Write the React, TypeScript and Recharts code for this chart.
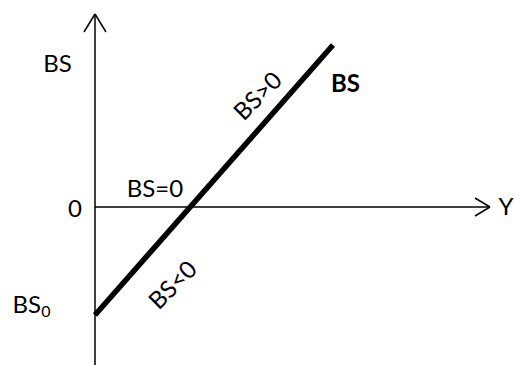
import { ComposedChart, Line, XAxis, YAxis, ReferenceDot, ReferenceLine } from "recharts";

// budget surplus line BS = -BS0 + t*Y
const lineY = [0, 9.52];
const lineBS = [-4.32, 6.48];

// axes (origin at Y=0, BS=0)
const horizAxisY = [0, 15.8];
const vertAxisBS = [-6.32, 7.72];

// open arrow heads: [tip, arm1, arm2]
const xArrowY = [15.8, 15.2, 15.2];
const xArrowBS = [0, 0.36, -0.36];
const yArrowY = [0, -0.44, 0.44];
const yArrowBS = [7.72, 7.0, 7.0];

const labels = [
  { text: "BS", y: -1.5, bs: 5.4, bold: false, angle: 0 },
  { text: "0", y: -0.8, bs: -0.4, bold: false, angle: 0 },
  { text: "BS=0", y: 2.4, bs: 0.4, bold: false, angle: 0 },
  { text: "BS", y: 10.02, bs: 4.6, bold: true, angle: 0 },
  { text: "Y", y: 16.44, bs: -0.32, bold: false, angle: 0 },
  { text: "BS>0", y: 6.48, bs: 4.48, bold: false, angle: -45 },
  { text: "BS<0", y: 3.08, bs: -3.08, bold: false, angle: -45 },
];

const toPts = (xs: number[], ys: number[]) => xs.map((x, i) => ({ y: x, bs: ys[i] }));

const FONT = "Lato, 'Open Sans', sans-serif";

const seg = (x1: number, y1: number, x2: number, y2: number, key: string) => (
  <ReferenceLine
    key={key}
    segment={[
      { x: x1, y: y1 },
      { x: x2, y: y2 },
    ]}
    stroke="#000"
    strokeWidth={1.5}
    ifOverflow="visible"
  />
);

export default function App() {
  return (
    <div style={{ position: "absolute", left: 0, top: 0, background: "#fff" }}>
      <ComposedChart width={515} height={365} margin={{ top: 0, right: 0, bottom: 0, left: 0 }}>
        <XAxis type="number" dataKey="y" domain={[-3.8, 16.8]} allowDataOverflow hide />
        <YAxis type="number" dataKey="bs" domain={[-6.32, 8.28]} allowDataOverflow hide />
        {seg(horizAxisY[0], 0, horizAxisY[1], 0, "hx")}
        {seg(0, vertAxisBS[0], 0, vertAxisBS[1], "vy")}
        {seg(xArrowY[0], xArrowBS[0], xArrowY[1], xArrowBS[1], "xa1")}
        {seg(xArrowY[0], xArrowBS[0], xArrowY[2], xArrowBS[2], "xa2")}
        {seg(yArrowY[0], yArrowBS[0], yArrowY[1], yArrowBS[1], "ya1")}
        {seg(yArrowY[0], yArrowBS[0], yArrowY[2], yArrowBS[2], "ya2")}
        <Line data={toPts(lineY, lineBS)} dataKey="bs" stroke="#000" strokeWidth={5.5} dot={false} activeDot={false} isAnimationActive={false} />
        <ReferenceDot
          x={-2.54}
          y={-4.24}
          r={0}
          shape={(p: any) => (
            <text x={p.cx} y={p.cy} textAnchor="middle" fontFamily={FONT} fontSize={24} fill="#000">
              BS<tspan fontSize={16} dy={4}>0</tspan>
            </text>
          )}
        />
        {labels.map((l, i) => (
          <ReferenceDot
            key={i}
            x={l.y}
            y={l.bs}
            r={0}
            shape={(p: any) => (
              <text
                x={p.cx}
                y={p.cy}
                textAnchor="middle"
                dominantBaseline={l.angle ? "central" : "auto"}
                transform={l.angle ? `rotate(${l.angle} ${p.cx} ${p.cy})` : undefined}
                fontFamily={FONT}
                fontSize={24}
                fontWeight={l.bold ? 700 : 400}
                fill="#000"
              >
                {l.text}
              </text>
            )}
          />
        ))}
      </ComposedChart>
    </div>
  );
}
